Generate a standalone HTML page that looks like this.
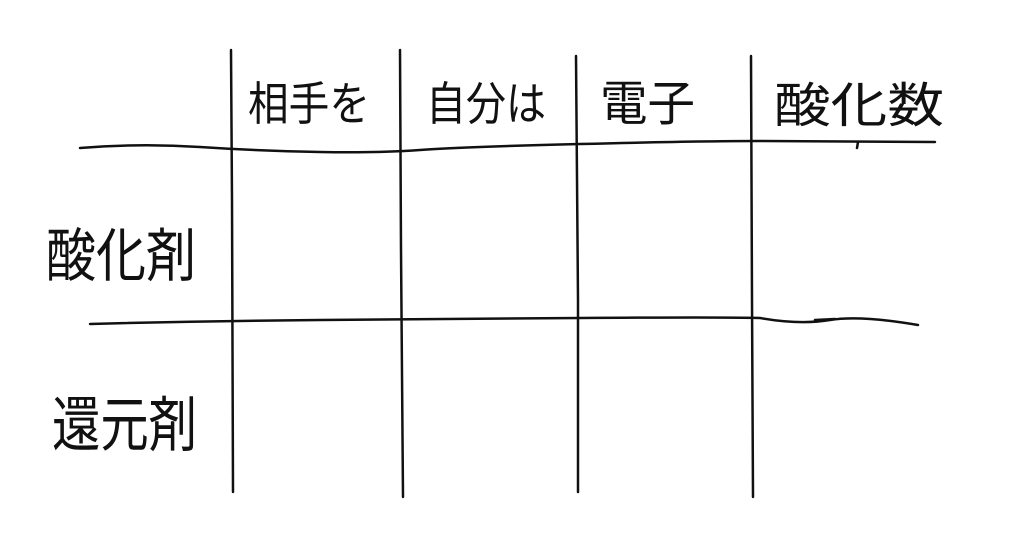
<!DOCTYPE html>
<html><head><meta charset="utf-8"><style>
html,body{margin:0;padding:0;background:#fff;}
svg{display:block;}
text{font-family:"Liberation Sans","Noto Sans CJK JP",sans-serif;font-weight:400;fill:#111;}
</style></head><body>
<svg width="1024" height="539" viewBox="0 0 1024 539">
<g stroke="#111" stroke-width="2.5" fill="none" stroke-linecap="round">
<path d="M231 50 L232 200 L233 492"/>
<path d="M400 50 L401 250 L403 497"/>
<path d="M576 56 L578 300 L578 492"/>
<path d="M751 56 L752 300 L753 497"/>
<path d="M80 148 Q140 143 200 147 T320 152 T420 150 T580 144 T760 141 L935 142"/>
<path d="M90 324 Q200 321 320 320 T580 318 T760 318 Q800 325 830 320 T918 325"/>
<path d="M858 142 L857 148"/>
<path d="M815 320 L835 319"/>
</g>
<text x="248" y="120" font-size="46" textLength="122" lengthAdjust="spacingAndGlyphs">相手を</text>
<text x="426" y="120" font-size="46" textLength="120" lengthAdjust="spacingAndGlyphs">自分は</text>
<text x="600" y="120" font-size="48" textLength="95" lengthAdjust="spacingAndGlyphs">電子</text>
<text x="774" y="122" font-size="48" textLength="170" lengthAdjust="spacingAndGlyphs">酸化数</text>
<text x="46" y="276" font-size="58" textLength="150" lengthAdjust="spacingAndGlyphs">酸化剤</text>
<text x="52" y="446" font-size="60" textLength="145" lengthAdjust="spacingAndGlyphs">還元剤</text>
</svg>
</body></html>
